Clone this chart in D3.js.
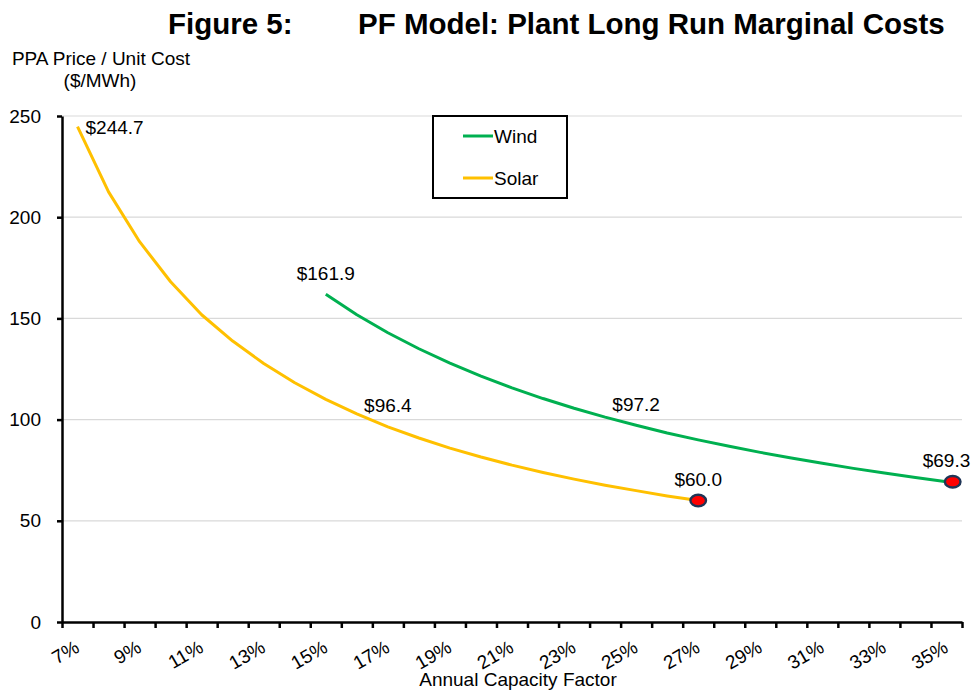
<!DOCTYPE html>
<html>
<head>
<meta charset="utf-8">
<script src="https://cdn.jsdelivr.net/npm/d3@7"></script>
<style>
  body { margin: 0; background: #fff; }
  svg text { font-family: Arial, "Liberation Sans", sans-serif; fill: #000; }
</style>
</head>
<body>
<svg width="974" height="690"></svg>
<script>
// capacity factor categories (%), each one drawn as a slot on the x axis
var categories = d3.range(7, 36);
var tickLabels = ["7%","9%","11%","13%","15%","17%","19%","21%","23%","25%","27%","29%","31%","33%","35%"];
var yTicks = [0, 50, 100, 150, 200, 250];

var solarCF = [7,8,9,10,11,12,13,14,15,16,17,18,19,20,21,22,23,24,25,26,27];
var solarCost = [244.7,212.5,187.9,168.1,151.8,138.8,127.7,118.2,110.0,102.8,96.4,
                 90.9,85.9,81.5,77.5,73.9,70.6,67.6,64.9,62.3,60.0];

var windCF = [15,16,17,18,19,20,21,22,23,24,25,26,27,28,29,30,31,32,33,34,35];
var windCost = [161.9,151.8,142.9,135.0,127.9,121.5,115.7,110.4,105.6,101.2,97.2,
                93.4,90.0,86.8,83.8,81.0,78.4,75.9,73.6,71.4,69.3];

// labelled points: [cf, value, position]
var solarLabels = [[7, 244.7, "right"], [17, 96.4, "above"], [27, 60.0, "above"]];
var windLabels = [[15, 161.9, "above"], [25, 97.2, "above"], [35, 69.3, "above"]];
// end-point highlight markers
var markerCF = [27, 35.2];
var markerCost = [60.0, 69.3];

var svg = d3.select("svg");
var x = d3.scaleLinear().domain([6.5, 35.5]).range([62, 962]);
var y = d3.scaleLinear().domain([0, 250]).range([622, 116]);

var colors = { Wind: "#00b050", Solar: "#ffc000" };
var fs = "19px";

// title
svg.append("text").attr("x", 168).attr("y", 34)
    .style("font-size", "29.5px").style("font-weight", "bold").text("Figure 5:");
svg.append("text").attr("x", 358).attr("y", 34)
    .style("font-size", "29.5px").style("font-weight", "bold")
    .text("PF Model: Plant Long Run Marginal Costs");

// y axis title
svg.append("text").attr("x", 101).attr("y", 65).attr("text-anchor", "middle")
    .style("font-size", fs).text("PPA Price / Unit Cost");
svg.append("text").attr("x", 100).attr("y", 87).attr("text-anchor", "middle")
    .style("font-size", fs).text("($/MWh)");

// gridlines
svg.append("g").selectAll("line")
    .data(yTicks.filter(function(d) { return d > 0; }))
    .enter().append("line")
    .attr("x1", 62).attr("x2", 962)
    .attr("y1", function(d) { return y(d); })
    .attr("y2", function(d) { return y(d); })
    .attr("stroke", "#d9d9d9").attr("stroke-width", 1.2);

// y axis
var yAxis = svg.append("g").attr("transform", "translate(62,0)")
    .call(d3.axisLeft(y).tickValues(yTicks).tickSize(5).tickSizeOuter(0).tickPadding(16));
yAxis.select(".domain").attr("stroke", "#000").attr("stroke-width", 2.5);
yAxis.selectAll(".tick line").attr("stroke", "#000").attr("stroke-width", 2.5);
yAxis.selectAll("text").style("font-size", fs).attr("fill", "#000")
    .attr("font-family", null);

// x axis: ticks on slot boundaries
var bounds = categories.map(function(c) { return c - 0.5; }).concat([35.5]);
var xAxis = svg.append("g").attr("transform", "translate(0,622)")
    .call(d3.axisBottom(x).tickValues(bounds).tickSize(6).tickSizeOuter(0).tickFormat(""));
xAxis.select(".domain").attr("stroke", "#000").attr("stroke-width", 2.5);
xAxis.selectAll(".tick line").attr("stroke", "#000").attr("stroke-width", 2.5);

// x tick labels, rotated, every other category
svg.append("g").selectAll("text")
    .data(tickLabels)
    .enter().append("text")
    .attr("text-anchor", "end")
    .style("font-size", fs)
    .attr("transform", function(d) {
        return "translate(" + (x(parseInt(d)) + 3) + ",651) rotate(-30)";
    })
    .text(function(d) { return d; });

svg.append("text").attr("x", 518).attr("y", 686).attr("text-anchor", "middle")
    .style("font-size", fs).text("Annual Capacity Factor");

// lines
var line = d3.line()
    .x(function(d) { return x(d[0]); })
    .y(function(d) { return y(d[1]); });

svg.append("path")
    .datum(solarCF.map(function(c, i) { return [c, solarCost[i]]; }))
    .attr("d", line).attr("fill", "none")
    .attr("stroke", colors.Solar).attr("stroke-width", 3).attr("stroke-linejoin", "round");

svg.append("path")
    .datum(windCF.map(function(c, i) { return [c, windCost[i]]; }))
    .attr("d", line).attr("fill", "none")
    .attr("stroke", colors.Wind).attr("stroke-width", 3).attr("stroke-linejoin", "round");

// end markers
svg.append("g").selectAll("ellipse")
    .data(markerCF)
    .enter().append("ellipse")
    .attr("cx", function(d) { return x(d); })
    .attr("cy", function(d, i) { return y(markerCost[i]); })
    .attr("rx", 7.8).attr("ry", 5.8)
    .attr("fill", "#ff0000").attr("stroke", "#1f3556").attr("stroke-width", 2.4);

// data labels
svg.append("g").selectAll("text")
    .data(solarLabels.concat(windLabels))
    .enter().append("text")
    .style("font-size", fs)
    .attr("text-anchor", function(d) { return d[2] === "right" ? "start" : "middle"; })
    .attr("x", function(d) { return d[2] === "right" ? x(d[0]) + 8 : x(d[0]); })
    .attr("y", function(d) { return d[2] === "right" ? y(d[1]) + 7 : y(d[1]) - 14.5; })
    .text(function(d) { return "$" + d[1].toFixed(1); });

// legend
var legend = svg.append("g");
legend.append("rect").attr("x", 433).attr("y", 116).attr("width", 134).attr("height", 82)
    .attr("fill", "#fff").attr("stroke", "#000").attr("stroke-width", 2);
var legendItems = [["Wind", 136], ["Solar", 178]];
legendItems.forEach(function(it) {
    legend.append("line").attr("x1", 463).attr("x2", 493)
        .attr("y1", it[1]).attr("y2", it[1])
        .attr("stroke", colors[it[0]]).attr("stroke-width", 3);
    legend.append("text").attr("x", 494).attr("y", it[1] + 7)
        .style("font-size", fs).text(it[0]);
});
</script>
</body>
</html>
